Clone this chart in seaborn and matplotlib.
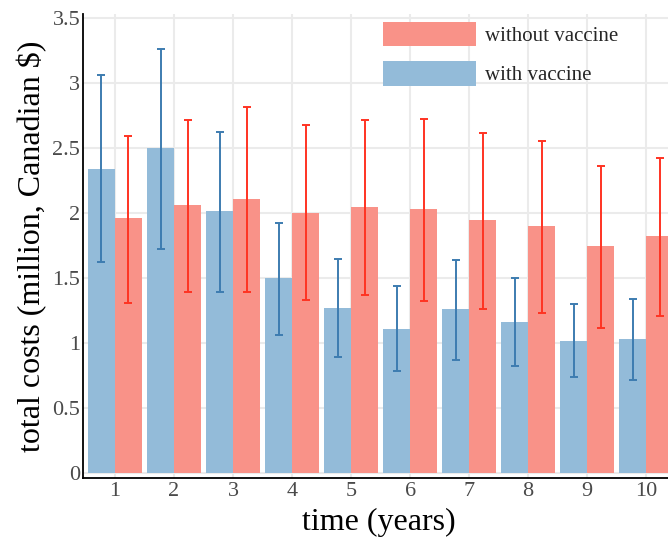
import matplotlib
matplotlib.use("Agg")
import matplotlib.pyplot as plt
import seaborn as sns
import pandas as pd
import numpy as np
from matplotlib.patches import Patch

years = [1, 2, 3, 4, 5, 6, 7, 8, 9, 10]
with_vaccine = [2.336, 2.498, 2.012, 1.496, 1.266, 1.110, 1.257, 1.164, 1.018, 1.033]
with_lo = [1.620, 1.725, 1.393, 1.058, 0.890, 0.784, 0.866, 0.820, 0.735, 0.717]
with_hi = [3.055, 3.260, 2.619, 1.920, 1.642, 1.437, 1.635, 1.496, 1.298, 1.339]
without_vaccine = [1.958, 2.059, 2.105, 1.997, 2.043, 2.028, 1.943, 1.897, 1.742, 1.820]
without_lo = [1.310, 1.390, 1.393, 1.330, 1.370, 1.324, 1.262, 1.228, 1.118, 1.205]
without_hi = [2.590, 2.716, 2.810, 2.675, 2.710, 2.720, 2.610, 2.552, 2.359, 2.423]

groups = ["with vaccine", "without vaccine"]
bar_colors = ["#93bbd9", "#f99288"]
err_colors = ["#3d7cb0", "#ff3322"]

df = pd.DataFrame({
    "year": years * 2,
    "cost": with_vaccine + without_vaccine,
    "group": [groups[0]] * len(years) + [groups[1]] * len(years),
})

sns.set_style("white")
plt.rcParams["font.family"] = ["Liberation Serif", "DejaVu Serif"]

fig = plt.figure(figsize=(6.68, 5.37), dpi=100)
ax = fig.add_axes([83 / 668, 1 - 478 / 537, 1 - 83 / 668 + 0.01, (478 - 14) / 537])

sns.barplot(data=df, x="year", y="cost", hue="group", hue_order=groups,
            palette=bar_colors, native_scale=True, width=0.915, gap=0,
            errorbar=None, saturation=1, ax=ax, legend=False, zorder=2,
            linewidth=0)

bar_containers = list(ax.containers)[:2]
lows = [with_lo, without_lo]
highs = [with_hi, without_hi]
vals = [with_vaccine, without_vaccine]
for i, cont in enumerate(bar_containers):
    xs = [b.get_x() + b.get_width() / 2 for b in cont]
    v = np.array(vals[i])
    lo = v - np.array(lows[i])
    hi = np.array(highs[i]) - v
    ax.errorbar(xs, v, yerr=[lo, hi], fmt="none", ecolor=err_colors[i],
                elinewidth=1.4, capsize=2.6, capthick=1.4, zorder=3)

ax.set_xlim(0.458, 10.37 + 0.01 * 668 / 59)
ax.set_ylim(-0.038, 3.527)
ax.set_xticks(years)
ax.set_xticklabels([str(y) for y in years])
ax.set_yticks([0, 0.5, 1, 1.5, 2, 2.5, 3, 3.5])
ax.set_yticklabels(["0", "0.5", "1", "1.5", "2", "2.5", "3", "3.5"])
ax.grid(True, color="#ebebeb", linewidth=1.5, zorder=0)
ax.set_axisbelow(True)
ax.tick_params(axis="both", length=0, labelsize=16, labelcolor="#4a4a4a")
ax.tick_params(axis="x", pad=3)
ax.tick_params(axis="y", pad=2)

for s in ["top", "right"]:
    ax.spines[s].set_visible(False)
for s in ["left", "bottom"]:
    ax.spines[s].set_color("black")
    ax.spines[s].set_linewidth(1.3)

ax.set_xlabel("time (years)", fontsize=23, color="black", labelpad=4.5)
ax.set_ylabel("total costs (million, Canadian $)", fontsize=23, color="black", labelpad=4)

handles = [Patch(facecolor=bar_colors[1], edgecolor="none"),
           Patch(facecolor=bar_colors[0], edgecolor="none")]
fig.legend(handles, [groups[1], groups[0]], loc="upper left",
           bbox_to_anchor=(366 / 668, 1 - 5 / 537), frameon=False,
           fontsize=15, handlelength=4.47, handleheight=1.45,
           labelspacing=0.7, handletextpad=0.45, borderpad=0.3)

fig.savefig("out.png", dpi=100)
